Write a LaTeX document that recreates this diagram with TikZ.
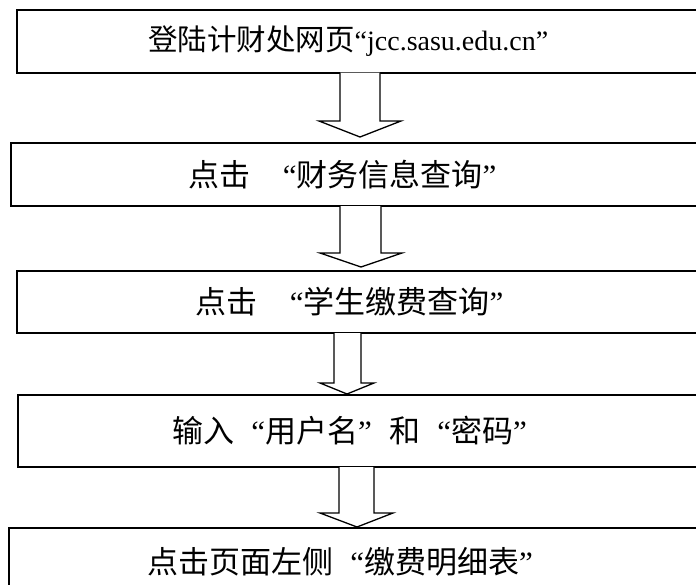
\documentclass[tikz,border=0pt]{standalone}
\usepackage{fontspec}
\setmainfont{Liberation Serif}
\newfontfamily\cjk{Noto Sans CJK SC}
\usetikzlibrary{calc}
\newcommand\myoq{\makebox[1em][r]{“}}
\newcommand\mycq{\makebox[1em][l]{”}}
\begin{document}
\begin{tikzpicture}[x=1pt,y=-1pt,
  box/.style={draw=black, line width=2pt, inner sep=0pt, outer sep=0pt, anchor=north west},
  lbl/.style={inner sep=0pt, anchor=west, font=\fontsize{31}{32}\selectfont},
  barrow/.style={draw=black, line width=1.3pt, fill=white, line join=miter}]
\useasboundingbox (0,0) rectangle (696,584);
\clip (0,0) rectangle (696,584);
\fill[white] (0,0) rectangle (696,584);
% boxes
\node[box, minimum width=710pt, minimum height=62.5pt] (b1) at (17,10) {};
\node[box, minimum width=710pt, minimum height=63pt] (b2) at (11,143) {};
\node[box, minimum width=710pt, minimum height=62pt] (b3) at (17,271) {};
\node[box, minimum width=710pt, minimum height=72pt] (b4) at (18,395) {};
\node[box, minimum width=710pt, minimum height=69pt] (b5) at (9,528) {};
% labels
\node[lbl, font=\fontsize{29.5}{30}\selectfont] (t1) at (148,41) {{\cjk 登陆计财处网页}{\fontsize{28}{29}\selectfont “jcc.sasu.edu.cn”}};
\node[lbl] (t2) at (188,175) {{\cjk 点击}\hspace{0.5em}\myoq{\cjk 财务信息查询}\mycq};
\node[lbl] (t3) at (195,302) {{\cjk 点击}\hspace{0.5em}\myoq{\cjk 学生缴费查询}\mycq};
\node[lbl] (t4) at (172,431) {{\cjk 输入}\myoq{\cjk 用户名}\mycq{\cjk 和}\myoq{\cjk 密码}\mycq};
\node[lbl] (t5) at (147,562) {{\cjk 点击页面左侧}\myoq{\cjk 缴费明细表}\mycq};
% block arrows
\draw[barrow] (340,0 |- b1.south) -- (340,121) -- (319,121)
  -- ($(360,0 |- b2.north)+(0,-6)$) -- (401,121) -- (380,121) -- (380,0 |- b1.south);
\draw[barrow] (340,0 |- b2.south) -- (340,253) -- (320,253)
  -- ($(361,0 |- b3.north)+(0,-4)$) -- (402,253) -- (381,253) -- (381,0 |- b2.south);
\draw[barrow] (334,0 |- b3.south) -- (334,383) -- (320,383)
  -- ($(347,0 |- b4.north)+(0,-1)$) -- (374,383) -- (361,383) -- (361,0 |- b3.south);
\draw[barrow] (339,0 |- b4.south) -- (339,513) -- (320,513)
  -- ($(357,0 |- b5.north)+(0,-1)$) -- (393,513) -- (374,513) -- (374,0 |- b4.south);
\end{tikzpicture}
\end{document}
